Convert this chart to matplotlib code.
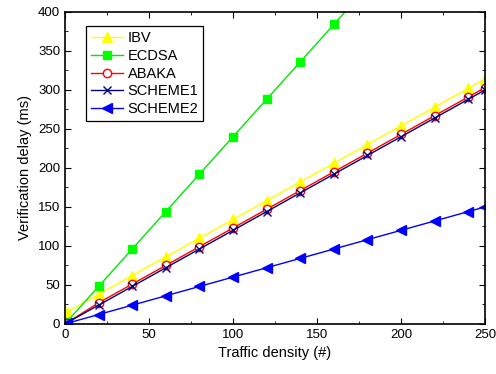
import matplotlib.pyplot as plt
from matplotlib.ticker import MultipleLocator

plt.rcParams['font.family'] = ['Liberation Sans', 'DejaVu Sans']

# traffic density values
density = [1, 20, 40, 60, 80, 100, 120, 140, 160, 180, 200, 220, 240, 250]

ibv = [15, 38, 62, 86, 110, 134, 158, 182, 206, 230, 254, 278, 302, 314]
ecdsa = [2.4, 48, 96, 144, 192, 240, 288, 336, 384, 432, 480, 528, 576, 600]
abaka = [1.2, 27, 51, 75, 99, 123, 147, 171, 195, 219, 243, 267, 291, 303]
scheme1 = [1.2, 24, 48, 72, 96, 120, 144, 168, 192, 216, 240, 264, 288, 300]
scheme2 = [0.6, 12, 24, 36, 48, 60, 72, 84, 96, 108, 120, 132, 144, 150]

fig = plt.figure(figsize=(4.96, 3.74), dpi=100)
ax = fig.add_axes([0.131, 0.134, 0.847, 0.834])

ax.plot(density, ibv, color='#ffff00', marker='^', markersize=7, lw=1, label='IBV')
ax.plot(density, ecdsa, color='#00e600', marker='s', markersize=6, lw=1,
        markerfacecolor='#00ff00', markeredgecolor='#00ff00', label='ECDSA')
ax.plot(density, abaka, color='#ff0000', marker='o', markersize=6, lw=1,
        markerfacecolor='white', label='ABAKA')
ax.plot(density, scheme1, color='#000080', marker='x', markersize=6, lw=1, label='SCHEME1')
ax.plot(density, scheme2, color='#0000ff', marker='<', markersize=7, lw=1, label='SCHEME2')

ax.set_xlim(0, 250)
ax.set_ylim(0, 400)
ax.xaxis.set_major_locator(MultipleLocator(50))
ax.xaxis.set_minor_locator(MultipleLocator(25))
ax.yaxis.set_major_locator(MultipleLocator(50))
ax.yaxis.set_minor_locator(MultipleLocator(25))
ax.tick_params(which='both', direction='in', top=True, right=True, labelsize=9.5)
ax.tick_params(which='major', length=4)
ax.tick_params(which='minor', length=2.5)
for s in ax.spines.values():
    s.set_linewidth(1.2)

ax.set_xlabel('Traffic density (#)', fontsize=10.5)
ax.set_ylabel('Verification delay (ms)', fontsize=10.5)

leg = ax.legend(loc='upper left', bbox_to_anchor=(0.05, 0.955), borderaxespad=0,
                fontsize=10.5, fancybox=False, edgecolor='black', framealpha=1,
                borderpad=0.35, labelspacing=0.26, handlelength=2.2, handletextpad=0.3)
leg.get_frame().set_linewidth(0.9)

fig.savefig('out.png', dpi=100)
